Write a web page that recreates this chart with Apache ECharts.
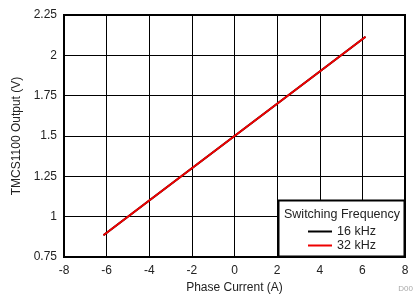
<!DOCTYPE html>
<html>
<head>
<meta charset="utf-8">
<script src="https://cdn.jsdelivr.net/npm/echarts@6/dist/echarts.min.js"></script>
<style>
  html, body { margin: 0; padding: 0; background: #fff; }
  #chart { width: 415px; height: 294px; }
</style>
</head>
<body>
<div id="chart"></div>
<script>
// phase current (A) and sensor output (V)
const current = [-6.15, -4, -2, 0, 2, 4, 6.15];
const out16k = [0.885, 1.1, 1.3, 1.5, 1.7, 1.9, 2.115];
const out32k = [0.885, 1.1, 1.3, 1.5, 1.7, 1.9, 2.115];
const seriesNames = ["16 kHz", "32 kHz"];
const seriesColors = ["#000000", "#ee0000"];

const FONT = "Liberation Sans, Arial, sans-serif";
const pairs = (xs, ys) => xs.map((x, i) => [x, ys[i]]);

const chart = echarts.init(document.getElementById("chart"));
chart.setOption({
    animation: false,
    grid: {
        left: 64, right: 10, top: 15, bottom: 37,
        outerBoundsMode: "none", containLabel: false,
        show: true, borderColor: "#000", borderWidth: 2
    },
    xAxis: {
        type: "value", min: -8, max: 8, interval: 2,
        name: "Phase Current (A)", nameLocation: "middle", nameGap: 22,
        nameTextStyle: { fontFamily: FONT, fontSize: 12, color: "#222" },
        axisLine: { show: false }, axisTick: { show: false },
        axisLabel: { fontFamily: FONT, fontSize: 12, color: "#222", margin: 8 },
        splitLine: { lineStyle: { color: "#000", width: 1 } }
    },
    yAxis: {
        type: "value", min: 0.75, max: 2.25, interval: 0.25,
        name: "TMCS1100 Output (V)", nameLocation: "middle", nameGap: 40,
        nameTextStyle: { fontFamily: FONT, fontSize: 12, color: "#222" },
        axisLine: { show: false }, axisTick: { show: false },
        axisLabel: { fontFamily: FONT, fontSize: 12, color: "#222", margin: 7 },
        splitLine: { lineStyle: { color: "#000", width: 1 } }
    },
    legend: {
        orient: "vertical", left: 303, top: 220, z: 60,
        itemWidth: 24, itemHeight: 2, itemGap: 1, icon: "rect",
        textStyle: { fontFamily: FONT, fontSize: 12.5, color: "#222", lineHeight: 12 },
        data: seriesNames
    },
    graphic: [
        {
            type: "rect", z: 50,
            shape: { x: 278.5, y: 200.5, width: 126, height: 56 },
            style: { fill: "#fff", stroke: "#000", lineWidth: 2 }
        },
        {
            type: "text", z: 51, left: 284, top: 208,
            style: { text: "Switching Frequency", font: "12.5px " + FONT, fill: "#222" }
        },
        {
            type: "text", right: 2, bottom: 1,
            style: { text: "D00", font: "8px " + FONT, fill: "#aaa" }
        }
    ],
    series: [
        {
            name: seriesNames[0], type: "line", data: pairs(current, out16k),
            showSymbol: false, color: seriesColors[0],
            lineStyle: { width: 2, color: seriesColors[0] }
        },
        {
            name: seriesNames[1], type: "line", data: pairs(current, out32k),
            showSymbol: false, color: seriesColors[1],
            lineStyle: { width: 2, color: seriesColors[1] }
        }
    ]
});
</script>
</body>
</html>
